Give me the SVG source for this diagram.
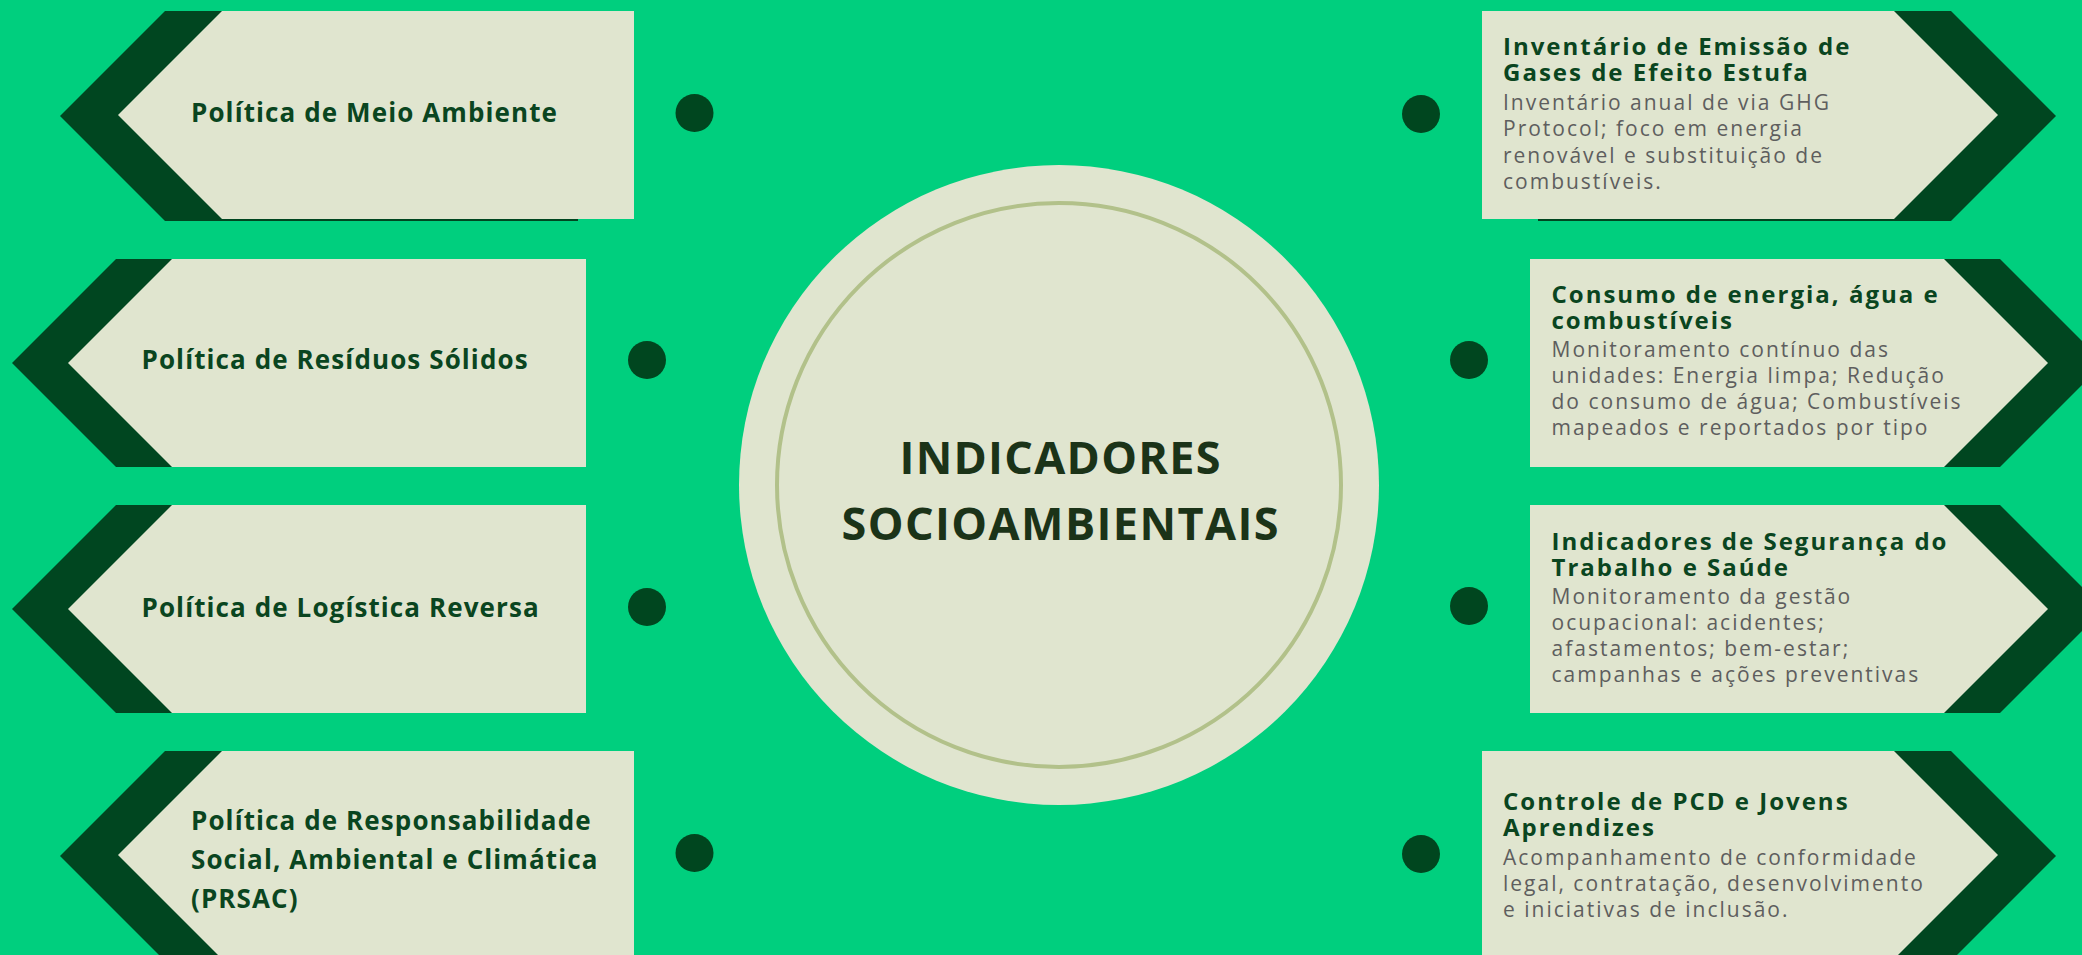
<svg xmlns="http://www.w3.org/2000/svg" width="2082" height="955" viewBox="0 0 2082 955">
<style>
.bg{fill:#00cf7e}
.dk{fill:#004620}
.lt{fill:#e0e5cf}
.dot{fill:#00461f}
.lt-title{font-family:"Open Sans","Liberation Sans",sans-serif;font-weight:700;font-size:26px;fill:#0a4520;letter-spacing:1.1px}
.rt-title{font-family:"Open Sans","Liberation Sans",sans-serif;font-weight:700;font-size:24px;fill:#0a4520;letter-spacing:2px}
.body{font-family:"Open Sans","Liberation Sans",sans-serif;font-weight:400;font-size:21px;fill:#5e5e5e;letter-spacing:2px}
.center{font-family:"Open Sans","Liberation Sans",sans-serif;font-weight:700;font-size:45px;fill:#1b3318;text-anchor:middle}
</style>
<rect class="bg" x="0" y="0" width="2082" height="955"/>

<g id="center">
  <circle cx="1059" cy="485" r="320" class="lt"/>
  <circle cx="1059" cy="485" r="282" fill="none" stroke="#b2c18a" stroke-width="4"/>
  <text class="center" x="1060" y="474" textLength="321" lengthAdjust="spacing">INDICADORES</text>
  <text class="center" x="1060" y="540" textLength="437" lengthAdjust="spacing">SOCIOAMBIENTAIS</text>
</g>

<g id="left-1">
  <polygon class="dk" points="165,11 578,11 578,221 165,221 60,116"/>
  <polygon class="lt" points="222,11 634,11 634,219 222,219 118,115"/>
  <text class="lt-title" x="191" y="122">Política de Meio Ambiente</text>
</g>
<g id="left-2">
  <polygon class="dk" points="116,259 500,259 500,467 116,467 12,363"/>
  <polygon class="lt" points="172,259 586,259 586,467 172,467 68,363"/>
  <text class="lt-title" x="141.5" y="369">Política de Resíduos Sólidos</text>
</g>
<g id="left-3">
  <polygon class="dk" points="116,505 500,505 500,713 116,713 12,609"/>
  <polygon class="lt" points="172,505 586,505 586,713 172,713 68,609"/>
  <text class="lt-title" x="141.5" y="617">Política de Logística Reversa</text>
</g>
<g id="left-4">
  <polygon class="dk" points="165,751 578,751 578,961 165,961 60,856"/>
  <polygon class="lt" points="222,751 634,751 634,959 222,959 118,855"/>
  <text class="lt-title" x="191" y="830">Política de Responsabilidade</text>
  <text class="lt-title" x="191" y="869">Social, Ambiental e Climática</text>
  <text class="lt-title" x="191" y="908">(PRSAC)</text>
</g>

<g id="right-1">
  <polygon class="dk" points="1538,11 1951,11 2056,116 1951,221 1538,221"/>
  <polygon class="lt" points="1482,11 1894,11 1998,115 1894,219 1482,219"/>
  <text class="rt-title" x="1503" y="55">Inventário de Emissão de</text>
  <text class="rt-title" x="1503" y="81">Gases de Efeito Estufa</text>
  <text class="body" x="1503" y="110">Inventário anual de via GHG</text>
  <text class="body" x="1503" y="136.3">Protocol; foco em energia</text>
  <text class="body" x="1503" y="162.6">renovável e substituição de</text>
  <text class="body" x="1503" y="188.9">combustíveis.</text>
</g>
<g id="right-2">
  <polygon class="dk" points="1616,259 2000,259 2104,363 2000,467 1616,467"/>
  <polygon class="lt" points="1530,259 1944,259 2048,363 1944,467 1530,467"/>
  <text class="rt-title" x="1551.5" y="303">Consumo de energia, água e</text>
  <text class="rt-title" x="1551.5" y="329">combustíveis</text>
  <text class="body" x="1551.5" y="357">Monitoramento contínuo das</text>
  <text class="body" x="1551.5" y="383">unidades: Energia limpa; Redução</text>
  <text class="body" x="1551.5" y="409">do consumo de água; Combustíveis</text>
  <text class="body" x="1551.5" y="435">mapeados e reportados por tipo</text>
</g>
<g id="right-3">
  <polygon class="dk" points="1616,505 2000,505 2104,609 2000,713 1616,713"/>
  <polygon class="lt" points="1530,505 1944,505 2048,609 1944,713 1530,713"/>
  <text class="rt-title" x="1551.5" y="550">Indicadores de Segurança do</text>
  <text class="rt-title" x="1551.5" y="576">Trabalho e Saúde</text>
  <text class="body" x="1551.5" y="604">Monitoramento da gestão</text>
  <text class="body" x="1551.5" y="630">ocupacional: acidentes;</text>
  <text class="body" x="1551.5" y="656">afastamentos; bem-estar;</text>
  <text class="body" x="1551.5" y="682">campanhas e ações preventivas</text>
</g>
<g id="right-4">
  <polygon class="dk" points="1538,751 1951,751 2056,856 1951,961 1538,961"/>
  <polygon class="lt" points="1482,751 1894,751 1998,855 1894,959 1482,959"/>
  <text class="rt-title" x="1503" y="810">Controle de PCD e Jovens</text>
  <text class="rt-title" x="1503" y="836">Aprendizes</text>
  <text class="body" x="1503" y="865">Acompanhamento de conformidade</text>
  <text class="body" x="1503" y="891">legal, contratação, desenvolvimento</text>
  <text class="body" x="1503" y="917">e iniciativas de inclusão.</text>
</g>

<g id="dots">
  <circle class="dot" cx="694.5" cy="113" r="19"/>
  <circle class="dot" cx="647" cy="360" r="19"/>
  <circle class="dot" cx="647" cy="607" r="19"/>
  <circle class="dot" cx="694.5" cy="853" r="19"/>
  <circle class="dot" cx="1421" cy="114" r="19"/>
  <circle class="dot" cx="1469" cy="360" r="19"/>
  <circle class="dot" cx="1469" cy="606" r="19"/>
  <circle class="dot" cx="1421" cy="854" r="19"/>
</g>
<g id="connectors"/>
</svg>
